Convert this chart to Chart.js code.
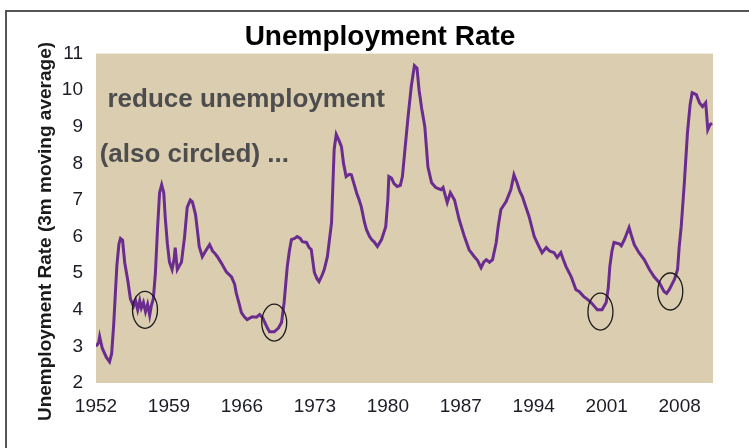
<!DOCTYPE html>
<html>
<head>
<meta charset="utf-8">
<script src="https://cdn.jsdelivr.net/npm/chart.js@4.4.1/dist/chart.umd.min.js"></script>
<style>
  html, body { margin: 0; padding: 0; background: #fff; overflow: hidden; }
  #wrap { position: relative; width: 749px; height: 448px; }
  #frame {
    position: absolute; left: 5px; top: 10px; width: 800px; height: 500px;
    border-top: 2px solid #555; border-left: 2px solid #555; pointer-events: none;
  }
  canvas { position: absolute; left: 0; top: 0; }
</style>
</head>
<body>
<div id="wrap">
  <canvas id="rateChart" width="749" height="448"></canvas>
  <div id="frame"></div>
</div>
<script>
// data (3 month moving average, %)
const years = [
  1952.0, 1952.25, 1952.35, 1952.6, 1953.0, 1953.3, 1953.5, 1953.7, 1954.0, 1954.2,
  1954.35, 1954.55, 1954.75, 1955.05, 1955.3, 1955.6, 1955.8, 1956.0, 1956.2, 1956.35,
  1956.55, 1956.75, 1956.95, 1957.15, 1957.3, 1957.5, 1957.7, 1957.9, 1958.1, 1958.3,
  1958.5, 1958.65, 1958.85, 1959.05, 1959.3, 1959.5, 1959.6, 1959.8, 1960.0, 1960.2,
  1960.5, 1960.75, 1961.05, 1961.25, 1961.55, 1961.8, 1961.9, 1962.2, 1962.5, 1962.9,
  1963.2, 1963.35, 1963.65, 1964.0, 1964.5, 1965.0, 1965.3, 1965.45, 1965.75, 1965.95,
  1966.25, 1966.5, 1967.0, 1967.4, 1967.7, 1968.0, 1968.15, 1968.45, 1968.65, 1969.1,
  1969.5, 1969.8, 1970.05, 1970.35, 1970.55, 1970.75, 1971.05, 1971.3, 1971.6, 1971.8,
  1972.2, 1972.45, 1972.65, 1972.95, 1973.2, 1973.4, 1973.7, 1973.9, 1974.2, 1974.6,
  1974.85, 1975.05, 1975.35, 1975.55, 1975.75, 1976.0, 1976.3, 1976.5, 1976.8, 1977.0,
  1977.25, 1977.45, 1977.75, 1977.95, 1978.25, 1978.45, 1978.7, 1979.0, 1979.4, 1979.8,
  1980.0, 1980.1, 1980.35, 1980.6, 1980.9, 1981.2, 1981.4, 1981.65, 1981.95, 1982.25,
  1982.55, 1982.8, 1983.0, 1983.25, 1983.55, 1983.85, 1984.2, 1984.6, 1985.1, 1985.3,
  1985.7, 1986.0, 1986.4, 1986.85, 1987.35, 1987.8, 1988.3, 1988.6, 1988.95, 1989.2,
  1989.45, 1989.75, 1990.05, 1990.4, 1990.6, 1990.85, 1991.35, 1991.8, 1992.1, 1992.4,
  1992.65, 1992.9, 1993.25, 1993.55, 1994.05, 1994.3, 1994.5, 1994.8, 1995.2, 1995.55,
  1995.95, 1996.25, 1996.6, 1996.8, 1997.1, 1997.6, 1998.05, 1998.35, 1998.8, 1999.1,
  1999.5, 1999.8, 2000.1, 2000.55, 2000.95, 2001.15, 2001.3, 2001.5, 2001.7, 2002.2,
  2002.4, 2002.7, 2003.15, 2003.35, 2003.65, 2004.1, 2004.6, 2005.1, 2005.55, 2006.05,
  2006.5, 2006.75, 2007.0, 2007.5, 2007.8, 2007.95, 2008.15, 2008.45, 2008.75, 2009.0,
  2009.2, 2009.6, 2009.9, 2010.2, 2010.5, 2010.7, 2010.9, 2011.1
];
const rates = [
  3.0, 3.1, 3.27, 2.95, 2.7, 2.58, 2.8, 3.6, 5.2, 5.8,
  5.95, 5.9, 5.3, 4.8, 4.3, 4.1, 4.25, 4.0, 4.25, 4.05,
  4.2, 3.95, 4.15, 3.85, 4.1, 4.3, 5.0, 6.2, 7.2, 7.42,
  7.2, 6.5, 5.8, 5.3, 5.1, 5.4, 5.7, 5.1, 5.2, 5.3,
  6.0, 6.8, 7.0, 6.95, 6.6, 6.0, 5.73, 5.45, 5.6, 5.78,
  5.6, 5.56, 5.45, 5.29, 5.04, 4.9, 4.7, 4.47, 4.15, 3.92,
  3.8, 3.73, 3.81, 3.8, 3.87, 3.78, 3.68, 3.5, 3.4, 3.4,
  3.5, 3.65, 4.2, 5.18, 5.6, 5.92, 5.95, 6.0, 5.95, 5.86,
  5.84, 5.7, 5.65, 5.02, 4.85, 4.77, 4.95, 5.1, 5.45, 6.38,
  8.38, 8.79, 8.6, 8.46, 8.0, 7.64, 7.7, 7.69, 7.4, 7.2,
  7.0, 6.82, 6.4, 6.19, 6.0, 5.92, 5.85, 5.73, 5.92, 6.27,
  7.0, 7.64, 7.6, 7.45, 7.37, 7.4, 7.64, 8.4, 9.3, 10.1,
  10.67, 10.6, 10.0, 9.5, 9.0, 7.9, 7.47, 7.34, 7.28, 7.34,
  6.93, 7.2, 7.0, 6.46, 6.0, 5.64, 5.45, 5.35, 5.15, 5.3,
  5.37, 5.3, 5.37, 5.84, 6.3, 6.74, 6.96, 7.28, 7.69, 7.47,
  7.25, 7.1, 6.8, 6.55, 6.0, 5.85, 5.73, 5.56, 5.7, 5.6,
  5.56, 5.43, 5.56, 5.4, 5.18, 4.9, 4.55, 4.5, 4.36, 4.3,
  4.2, 4.1, 4.0, 4.0, 4.2, 4.6, 5.18, 5.6, 5.84, 5.8,
  5.75, 5.92, 6.25, 6.05, 5.78, 5.56, 5.37, 5.1, 4.9, 4.74,
  4.5, 4.45, 4.55, 4.83, 5.1, 5.7, 6.27, 7.47, 8.84, 9.6,
  9.93, 9.88, 9.66, 9.55, 9.66, 8.92, 9.05, 9.1
];
const yearTicks = [1952, 1959, 1966, 1973, 1980, 1987, 1994, 2001, 2008];
const rateTicks = [2, 3, 4, 5, 6, 7, 8, 9, 10, 11];

// the circled lows
const circleYears = [1956.7, 1969.1, 2000.4, 2007.1];
const circleRates = [4.0, 3.65, 3.95, 4.5];

const notes = ["reduce unemployment", "(also circled) ..."];
const noteYears = [1953.1, 1952.35];
const noteRates = [9.74, 8.24];

const points = years.map((y, i) => ({ x: y, y: rates[i] }));

// beige plot background
const plotBg = {
  id: "plotBg",
  beforeDraw(chart) {
    const { ctx, chartArea: a } = chart;
    ctx.save();
    ctx.fillStyle = "#dbcdb0";
    ctx.fillRect(a.left, a.top, a.right - a.left, a.bottom - a.top);
    ctx.restore();
  }
};

// hand drawn circles + the notes
const marks = {
  id: "marks",
  afterDatasetsDraw(chart) {
    const { ctx, scales: { x, y } } = chart;
    ctx.save();
    ctx.strokeStyle = "#1a1a1a";
    ctx.lineWidth = 1.3;
    circleYears.forEach((cy, i) => {
      ctx.beginPath();
      ctx.ellipse(x.getPixelForValue(cy), y.getPixelForValue(circleRates[i]), 12.5, 18.5, 0, 0, Math.PI * 2);
      ctx.stroke();
    });
    ctx.fillStyle = "#4d4d4d";
    ctx.font = "bold 26px 'Liberation Sans', Arial, sans-serif";
    ctx.textBaseline = "middle";
    notes.forEach((t, i) => {
      ctx.fillText(t, x.getPixelForValue(noteYears[i]), y.getPixelForValue(noteRates[i]));
    });
    ctx.restore();
  }
};

const tickFont = { family: "'Liberation Sans', Arial, sans-serif", size: 19 };

new Chart(document.getElementById("rateChart"), {
  type: "line",
  data: {
    datasets: [{
      label: "Unemployment Rate",
      data: points,
      borderColor: "#6a2c8e",
      borderWidth: 3,
      pointRadius: 0,
      tension: 0
    }]
  },
  options: {
    responsive: false,
    animation: false,
    layout: { padding: { left: 11, right: 0, top: 0, bottom: 0 } },
    plugins: {
      legend: { display: false },
      tooltip: { enabled: false },
      title: {
        display: true,
        text: "Unemployment Rate",
        color: "#000",
        font: { family: "'Liberation Sans', Arial, sans-serif", size: 28, weight: "bold" },
        padding: { top: 20, bottom: 0 }
      }
    },
    scales: {
      x: {
        type: "linear",
        min: 1952,
        max: 2011.2,
        afterBuildTicks: s => { s.ticks = yearTicks.map(v => ({ value: v })); },
        afterFit: s => { s.height = 65; },
        grid: { display: false },
        border: { display: false },
        ticks: {
          color: "#1c1c28",
          font: tickFont,
          padding: 4,
          maxRotation: 0,
          callback: v => String(v)
        }
      },
      y: {
        min: 2,
        max: 11,
        afterBuildTicks: s => { s.ticks = rateTicks.map(v => ({ value: v })); },
        afterFit: s => { s.width = 85; },
        grid: { display: false },
        border: { display: false },
        ticks: { color: "#1c1c28", font: tickFont, padding: 5 },
        title: {
          display: true,
          text: "Unemployment Rate (3m moving average)     ",
          color: "#1a1a1a",
          font: { family: "'Liberation Sans', Arial, sans-serif", size: 19, weight: "bold" },
          padding: { top: 23, bottom: 0 }
        }
      },
      right: {
        position: "right",
        display: true,
        afterFit: s => { s.width = 36; },
        grid: { display: false },
        border: { display: false },
        ticks: { display: false }
      }
    }
  },
  plugins: [plotBg, marks]
});
</script>
</body>
</html>
